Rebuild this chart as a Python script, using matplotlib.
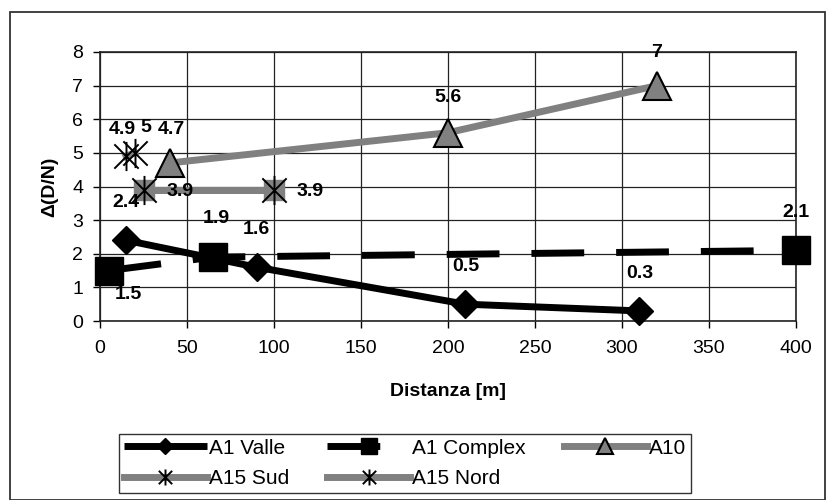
import matplotlib
matplotlib.use("Agg")
import matplotlib.pyplot as plt
import matplotlib.patches as patches
from matplotlib.path import Path

plt.rcParams['font.family'] = ['Liberation Sans', 'DejaVu Sans']

# Dati
valle_x = [15, 90, 210, 310]
valle_y = [2.4, 1.6, 0.5, 0.3]

complex_x = [5, 65, 400]
complex_y = [1.5, 1.9, 2.1]

a10_x = [40, 200, 320]
a10_y = [4.7, 5.6, 7]

sud_x = [25, 100]
sud_y = [3.9, 3.9]

nord_x = [15, 20]
nord_y = [4.9, 5]

x_ticks = [0, 50, 100, 150, 200, 250, 300, 350, 400]
y_ticks = [0, 1, 2, 3, 4, 5, 6, 7, 8]

# Marker asterisco (X + barra verticale) come in Excel
star = Path([(-1, -1), (1, 1), (-1, 1), (1, -1), (0, -1.2), (0, 1.2)],
            [Path.MOVETO, Path.LINETO] * 3)

GRAY = '#808080'

fig = plt.figure(figsize=(8.27, 5), dpi=100)
fig.patch.set_facecolor('white')
ax = fig.add_axes([100 / 827, 1 - 321 / 500, 696 / 827, 269 / 500])

# Bordo esterno del grafico
border = patches.Rectangle((10 / 827, 0.001), 815 / 827, 1 - 12 / 500 - 0.001,
                           transform=fig.transFigure, fill=False,
                           edgecolor='#333333', linewidth=1.3)
fig.patches.append(border)

l_valle, = ax.plot(valle_x, valle_y, color='black', lw=5, marker='D', ms=14,
                   mfc='black', mec='black', label='A1 Valle', zorder=3,
                   solid_capstyle='butt', clip_on=False)
l_complex, = ax.plot(complex_x, complex_y, color='black', lw=5, marker='s', ms=20,
                     mfc='black', mec='black', label='A1 Complex', zorder=4,
                     dashes=(7.6, 4.6), dash_capstyle='butt', clip_on=False)
l_a10, = ax.plot(a10_x, a10_y, color=GRAY, lw=5, marker='^', ms=20,
                 mfc=GRAY, mec='black', mew=1.5, label='A10', zorder=3,
                 clip_on=False)
ax.plot(sud_x, sud_y, color=GRAY, lw=5, marker='s', ms=14, mfc=GRAY,
        mec=GRAY, zorder=3)
l_sud, = ax.plot(sud_x, sud_y, color=GRAY, lw=5, marker=star, ms=21,
                 mfc='none', mec='black', mew=1.4, label='A15 Sud', zorder=3)
l_nord, = ax.plot(nord_x, nord_y, color=GRAY, lw=5, marker=star, ms=21,
                  mfc='none', mec='black', mew=1.4, label='A15 Nord', zorder=3)


def etichette(xs, ys, offsets):
    for x, y, off in zip(xs, ys, offsets):
        ax.annotate(f"{y:g}", (x, y), xytext=off, textcoords='offset points',
                    ha='center', va='center', fontsize=14, fontweight='bold',
                    zorder=6, annotation_clip=False)


etichette(valle_x, valle_y, [(0, 27)] * 4)
etichette(complex_x, complex_y, [(14, -17), (2, 28), (0, 27)])
etichette(a10_x, a10_y, [(1, 24), (0, 25), (0, 24)])
etichette(sud_x, sud_y, [(26, -1), (26, -1)])
etichette(nord_x, nord_y, [(-3, 19), (8, 18)])

ax.set_xlim(0, 400)
ax.set_ylim(0, 8)
ax.set_xticks(x_ticks)
ax.set_yticks(y_ticks)
ax.tick_params(direction='out', length=5, width=1, labelsize=14)
ax.tick_params(axis='x', pad=9)
ax.tick_params(axis='y', pad=7)
ax.grid(True, color='#222222', linewidth=0.9)
ax.set_axisbelow(True)
for spine in ax.spines.values():
    spine.set_color('#222222')
    spine.set_linewidth(1.2)

ax.set_xlabel('Distanza [m]', fontsize=14, fontweight='bold', va='center')
ax.xaxis.set_label_coords((448 - 100) / 696, (321 - 392) / 269)
ax.set_ylabel('Δ(D/N)', fontsize=14, fontweight='bold', va='center')
ax.yaxis.set_label_coords((50 - 100) / 696, (321 - 187) / 269)

handles = [l_valle, l_sud, l_complex, l_nord, l_a10]
leg = fig.legend(handles, [h.get_label() for h in handles], ncol=3,
                 loc='center', bbox_to_anchor=(405 / 827, 1 - 463.5 / 500),
                 fontsize=15, frameon=True, fancybox=False, edgecolor='black',
                 handlelength=4.0, handletextpad=0.1, columnspacing=1.8,
                 borderpad=0.25, labelspacing=0.55, markerscale=0.55,
                 borderaxespad=0)
leg.get_frame().set_linewidth(1)

fig.savefig('out.png', dpi=100)
